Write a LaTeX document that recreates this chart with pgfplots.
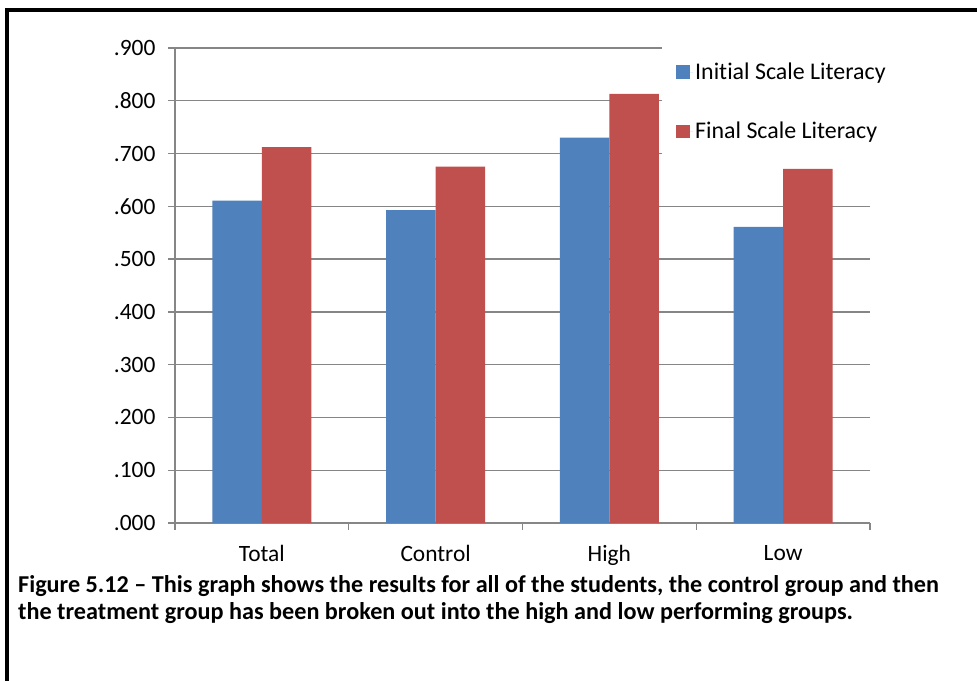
\documentclass[border=0pt]{standalone}
\usepackage{fontspec}
\setmainfont{Carlito}[Ligatures=NoCommon]
\usepackage{pgfplots}
\pgfplotsset{compat=1.18}
\definecolor{barblue}{HTML}{4F81BD}
\definecolor{barred}{HTML}{C0504D}
\definecolor{gridgray}{HTML}{868686}
\begin{document}
\begin{tikzpicture}[x=1bp,y=1bp]
\useasboundingbox (0,0) rectangle (977,681);
\fill[white] (0,0) rectangle (977,681);
\draw[line width=4bp] (7,0) -- (7,670.5) -- (977,670.5);
\begin{axis}[
  at={(175bp,158bp)}, anchor=south west,
  scale only axis, width=695bp, height=475bp,
  ymin=0, ymax=0.9, xmin=-0.5, xmax=3.5,
  ybar=0pt, bar width=49.5bp,
  axis lines*=left,
  axis line style={gridgray, line width=1.4bp},
  ytick={0,0.1,0.2,0.3,0.4,0.5,0.6,0.7,0.8,0.9},
  yticklabels={.000,.100,.200,.300,.400,.500,.600,.700,.800,.900},
  ymajorgrids,
  major grid style={gridgray, line width=1.4bp},
  xtick={0,1,2,3},
  xticklabels={Total,Control,High,Low},
  minor xtick={-0.5,0.5,1.5,2.5,3.5},
  tick align=outside,
  major tick length=7bp,
  minor tick length=7bp,
  tick style={gridgray, line width=1.4bp},
  every major x tick/.append style={draw=none},
  font=\fontsize{23.5}{27}\selectfont,
  yticklabel style={xshift=-9bp},
  xticklabel style={yshift=-12bp},
  legend style={at={(rel axis cs:0.7007,1.0126)}, anchor=north west,
    draw=none, fill=white, font=\fontsize{24}{28}\selectfont,
    inner xsep=14bp, inner ysep=19bp, row sep=37bp},
  legend cell align=left,
  legend image code/.code={\fill[#1] (0bp,-6.75bp) rectangle (13.5bp,6.75bp); \path (0bp,0bp) -- (17bp,0bp);},
]
\addplot[fill=barblue, draw=none] coordinates {(0,0.611) (1,0.593) (2,0.730) (3,0.561)};
\addplot[fill=barred, draw=none] coordinates {(0,0.712) (1,0.675) (2,0.813) (3,0.671)};
\legend{Initial Scale Literacy, Final Scale Literacy}
\end{axis}
\node[anchor=base west, inner sep=0, font=\bfseries\fontsize{24.3}{27}\selectfont] at (18,88) {Figure 5.12 – This graph shows the results for all of the students, the control group and then};
\node[anchor=base west, inner sep=0, font=\bfseries\fontsize{24.3}{27}\selectfont] at (18,61) {the treatment group has been broken out into the high and low performing groups.};
\end{tikzpicture}
\end{document}
